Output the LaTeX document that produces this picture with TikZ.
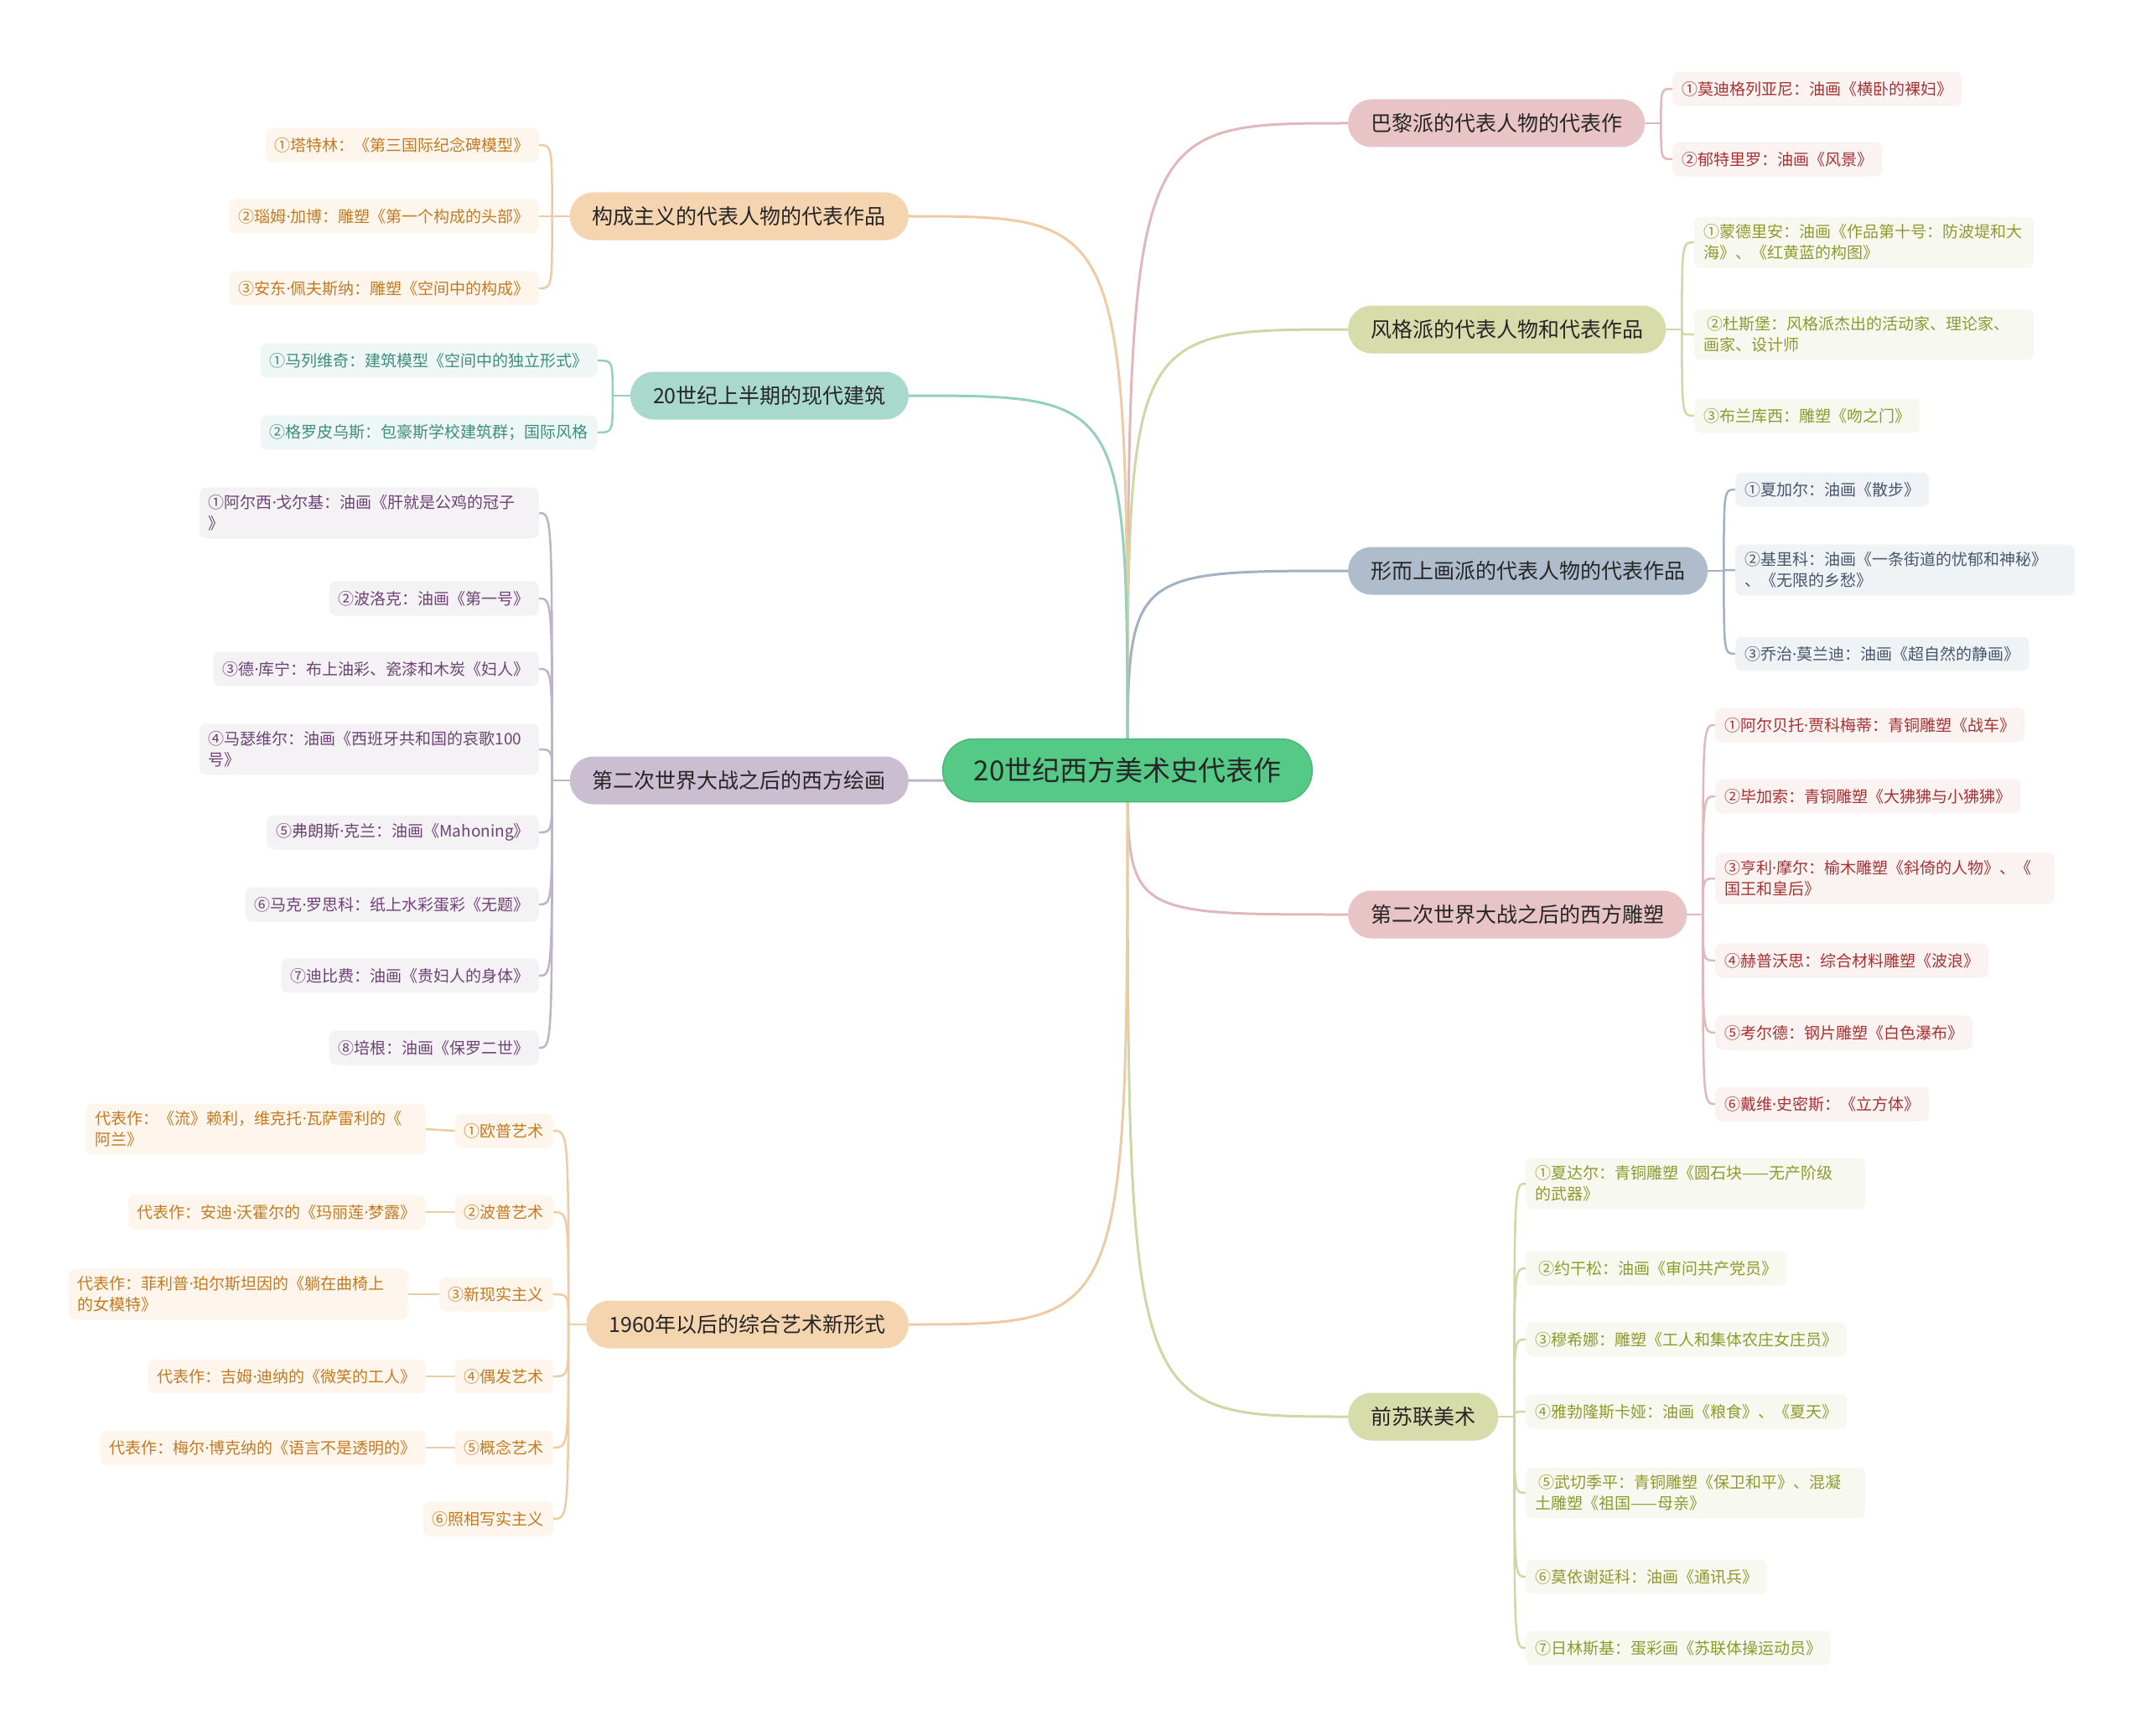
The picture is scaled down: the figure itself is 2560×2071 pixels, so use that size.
\documentclass[tikz,border=0pt]{standalone}
\usepackage{fontspec}
\setmainfont{Noto Sans CJK SC}
\newfontfamily\dotfont{Noto Sans}
\newcommand\mdot{{\dotfont ·}}
\usetikzlibrary{backgrounds}

\definecolor{rootgreen}{HTML}{55CA87}
\definecolor{rootline}{HTML}{4AB678}
\definecolor{peach}{HTML}{F5D4B0}
\definecolor{peachleaf}{HTML}{FEF6EC}
\definecolor{peachtext}{HTML}{C27A22}
\definecolor{peachline}{HTML}{EDCBA3}
\definecolor{teal}{HTML}{A8D9CC}
\definecolor{tealleaf}{HTML}{EEF7F5}
\definecolor{tealtext}{HTML}{3E8E7C}
\definecolor{tealline}{HTML}{94CFC0}
\definecolor{lilac}{HTML}{CABED0}
\definecolor{lilacleaf}{HTML}{F4F2F5}
\definecolor{lilactext}{HTML}{6E4275}
\definecolor{lilacline}{HTML}{BFB3C6}
\definecolor{pink}{HTML}{E9C4C6}
\definecolor{pinkleaf}{HTML}{FBF2F2}
\definecolor{pinktext}{HTML}{A53333}
\definecolor{pinkline}{HTML}{E0B8BB}
\definecolor{olive}{HTML}{D6DCAA}
\definecolor{oliveleaf}{HTML}{F7F8EF}
\definecolor{olivetext}{HTML}{8D9B2E}
\definecolor{oliveline}{HTML}{D0D6A5}
\definecolor{slate}{HTML}{AFBCCB}
\definecolor{slateleaf}{HTML}{F0F3F6}
\definecolor{slatetext}{HTML}{46566C}
\definecolor{slateline}{HTML}{A2B1C3}

\begin{document}
\begin{tikzpicture}[
  x=1pt, y=-1pt,
  root/.style={draw=rootline, line width=1.5pt, fill=rootgreen, rounded corners=37pt,
              minimum height=75pt, inner xsep=37pt, font=\fontsize{33}{40}\selectfont,
              text=black!85},
  topic/.style={rounded corners=28pt, minimum height=57pt, inner xsep=27pt,
              font=\fontsize{25}{30}\selectfont, text=black!85},
  leaf/.style={rounded corners=8pt, minimum height=41pt, inner xsep=11pt,
              inner ysep=9pt, font=\fontsize{19}{25}\selectfont},
  twoline/.style={text width=383pt, align=left},
  peachitem/.style={leaf, fill=peachleaf, text=peachtext},
  tealitem/.style={leaf, fill=tealleaf, text=tealtext},
  lilacitem/.style={leaf, fill=lilacleaf, text=lilactext},
  pinkitem/.style={leaf, fill=pinkleaf, text=pinktext},
  oliveitem/.style={leaf, fill=oliveleaf, text=olivetext},
  slateitem/.style={leaf, fill=slateleaf, text=slatetext},
  link/.style={line width=3pt},
  sublink/.style={line width=2.5pt},
]
\useasboundingbox (0,0) rectangle (2560,2071);

% === Root ===
\node[root] (root) at (1345,919) {20世纪西方美术史代表作};

% === Left side ===
\node[topic, fill=peach, anchor=east] (cons) at (1084,258) {构成主义的代表人物的代表作品};
\node[peachitem, anchor=east] (cons1) at (643,173) {①塔特林：《第三国际纪念碑模型》};
\node[peachitem, anchor=east] (cons2) at (643,258) {②瑙姆\mdot 加博：雕塑《第一个构成的头部》};
\node[peachitem, anchor=east] (cons3) at (643,344) {③安东\mdot 佩夫斯纳：雕塑《空间中的构成》};

\node[topic, fill=teal, anchor=east] (arch) at (1084,472) {20世纪上半期的现代建筑};
\node[tealitem, anchor=east] (arch1) at (713,430) {①马列维奇：建筑模型《空间中的独立形式》};
\node[tealitem, anchor=east] (arch2) at (713,516) {②格罗皮乌斯：包豪斯学校建筑群；国际风格};

\node[topic, fill=lilac, anchor=east] (paint) at (1084,931) {第二次世界大战之后的西方绘画};
\node[lilacitem, twoline, anchor=east] (paint1) at (643,612) {①阿尔西\mdot 戈尔基：油画《肝就是公鸡的冠子\\》};
\node[lilacitem, anchor=east] (paint2) at (643,714) {②波洛克：油画《第一号》};
\node[lilacitem, anchor=east] (paint3) at (643,798) {③德\mdot 库宁：布上油彩、瓷漆和木炭《妇人》};
\node[lilacitem, twoline, anchor=east] (paint4) at (643,894) {④马瑟维尔：油画《西班牙共和国的哀歌100\\号》};
\node[lilacitem, anchor=east] (paint5) at (643,993) {⑤弗朗斯\mdot 克兰：油画《Mahoning》};
\node[lilacitem, anchor=east] (paint6) at (643,1079) {⑥马克\mdot 罗思科：纸上水彩蛋彩《无题》};
\node[lilacitem, anchor=east] (paint7) at (643,1164) {⑦迪比费：油画《贵妇人的身体》};
\node[lilacitem, anchor=east] (paint8) at (643,1250) {⑧培根：油画《保罗二世》};

\node[topic, fill=peach, anchor=east] (new) at (1084,1580) {1960年以后的综合艺术新形式};
\node[peachitem, anchor=east] (new1) at (660,1349) {①欧普艺术};
\node[peachitem, anchor=east] (new2) at (660,1446) {②波普艺术};
\node[peachitem, anchor=east] (new3) at (660,1544) {③新现实主义};
\node[peachitem, anchor=east] (new4) at (660,1642) {④偶发艺术};
\node[peachitem, anchor=east] (new5) at (660,1727) {⑤概念艺术};
\node[peachitem, anchor=east] (new6) at (660,1812) {⑥照相写实主义};
\node[peachitem, twoline, anchor=east] (work1) at (508,1347) {代表作：《流》赖利，维克托\mdot 瓦萨雷利的《\\阿兰》};
\node[peachitem, anchor=east] (work2) at (508,1446) {代表作：安迪\mdot 沃霍尔的《玛丽莲\mdot 梦露》};
\node[peachitem, twoline, anchor=east] (work3) at (487,1544) {代表作：菲利普\mdot 珀尔斯坦因的《躺在曲椅上\\的女模特》};
\node[peachitem, anchor=east] (work4) at (508,1642) {代表作：吉姆\mdot 迪纳的《微笑的工人》};
\node[peachitem, anchor=east] (work5) at (508,1727) {代表作：梅尔\mdot 博克纳的《语言不是透明的》};

% === Right side ===
\node[topic, fill=pink, anchor=west] (paris) at (1608,147) {巴黎派的代表人物的代表作};
\node[pinkitem, anchor=west] (paris1) at (1995,106) {①莫迪格列亚尼：油画《横卧的裸妇》};
\node[pinkitem, anchor=west] (paris2) at (1995,190) {②郁特里罗：油画《风景》};

\node[topic, fill=olive, anchor=west] (stijl) at (1608,393) {风格派的代表人物和代表作品};
\node[oliveitem, twoline, anchor=west] (stijl1) at (2021,289) {①蒙德里安：油画《作品第十号：防波堤和大\\海》、《红黄蓝的构图》};
\node[oliveitem, twoline, anchor=west] (stijl2) at (2021,399) {\hspace{4pt}②杜斯堡：风格派杰出的活动家、理论家、\\画家、设计师};
\node[oliveitem, anchor=west] (stijl3) at (2021,496) {③布兰库西：雕塑《吻之门》};

\node[topic, fill=slate, anchor=west] (meta) at (1608,681) {形而上画派的代表人物的代表作品};
\node[slateitem, anchor=west] (meta1) at (2070,584) {①夏加尔：油画《散步》};
\node[slateitem, twoline, anchor=west] (meta2) at (2070,680) {②基里科：油画《一条街道的忧郁和神秘》\\、《无限的乡愁》};
\node[slateitem, anchor=west] (meta3) at (2070,780) {③乔治\mdot 莫兰迪：油画《超自然的静画》};

\node[topic, fill=pink, anchor=west] (sculp) at (1608,1091) {第二次世界大战之后的西方雕塑};
\node[pinkitem, anchor=west] (sculp1) at (2046,865) {①阿尔贝托\mdot 贾科梅蒂：青铜雕塑《战车》};
\node[pinkitem, anchor=west] (sculp2) at (2046,950) {②毕加索：青铜雕塑《大狒狒与小狒狒》};
\node[pinkitem, twoline, anchor=west] (sculp3) at (2046,1048) {③亨利\mdot 摩尔：榆木雕塑《斜倚的人物》、《\\国王和皇后》};
\node[pinkitem, anchor=west] (sculp4) at (2046,1146) {④赫普沃思：综合材料雕塑《波浪》};
\node[pinkitem, anchor=west] (sculp5) at (2046,1232) {⑤考尔德：钢片雕塑《白色瀑布》};
\node[pinkitem, anchor=west] (sculp6) at (2046,1317) {⑥戴维\mdot 史密斯：《立方体》};

\node[topic, fill=olive, anchor=west] (soviet) at (1608,1690) {前苏联美术};
\node[oliveitem, twoline, anchor=west] (soviet1) at (1820,1412) {①夏达尔：青铜雕塑《圆石块——无产阶级\\的武器》};
\node[oliveitem, anchor=west] (soviet2) at (1820,1513) {\hspace{4pt}②约干松：油画《审问共产党员》};
\node[oliveitem, anchor=west] (soviet3) at (1820,1598) {③穆希娜：雕塑《工人和集体农庄女庄员》};
\node[oliveitem, anchor=west] (soviet4) at (1820,1684) {④雅勃隆斯卡娅：油画《粮食》、《夏天》};
\node[oliveitem, twoline, anchor=west] (soviet5) at (1820,1781) {\hspace{4pt}⑤武切季平：青铜雕塑《保卫和平》、混凝\\土雕塑《祖国——母亲》};
\node[oliveitem, anchor=west] (soviet6) at (1820,1881) {⑥莫依谢延科：油画《通讯兵》};
\node[oliveitem, anchor=west] (soviet7) at (1820,1966) {⑦日林斯基：蛋彩画《苏联体操运动员》};

% === Connectors ===
\begin{scope}[on background layer]
% root to topics
\foreach \t/\c in {paris/pinkline, stijl/oliveline, meta/slateline, sculp/pinkline, soviet/oliveline}
  \draw[link, \c] (root.center) .. controls (root.center |- \t.west) .. (\t.west);
\foreach \t/\c in {cons/peachline, arch/tealline, paint/lilacline, new/peachline}
  \draw[link, \c] (root.center) .. controls (root.center |- \t.east) .. (\t.east);

% topics to items, right side
\foreach \t/\n/\c in {paris/2/pinkline, stijl/3/oliveline, meta/3/slateline,
                      sculp/6/pinkline, soviet/7/oliveline} {
  \path (\t.east) ++(19,0) coordinate (j\t);
  \draw[sublink, \c] (\t.east) -- (j\t);
  \foreach \i in {1,...,\n}
    \draw[sublink, \c] (j\t) .. controls (j\t |- \t\i.west) and (j\t |- \t\i.west) .. (\t\i.west);
}

% topics to items, left side
\foreach \t/\n/\c in {cons/3/peachline, arch/2/tealline, paint/8/lilacline, new/6/peachline} {
  \path (\t.west) ++(-21,0) coordinate (j\t);
  \draw[sublink, \c] (\t.west) -- (j\t);
  \foreach \i in {1,...,\n}
    \draw[sublink, \c] (j\t) .. controls (j\t |- \t\i.east) and (j\t |- \t\i.east) .. (\t\i.east);
}

% art forms to their works
\foreach \i in {1,...,5}
  \draw[sublink, peachline] (new\i.west) -- (work\i.east);
\end{scope}

\end{tikzpicture}
\end{document}
